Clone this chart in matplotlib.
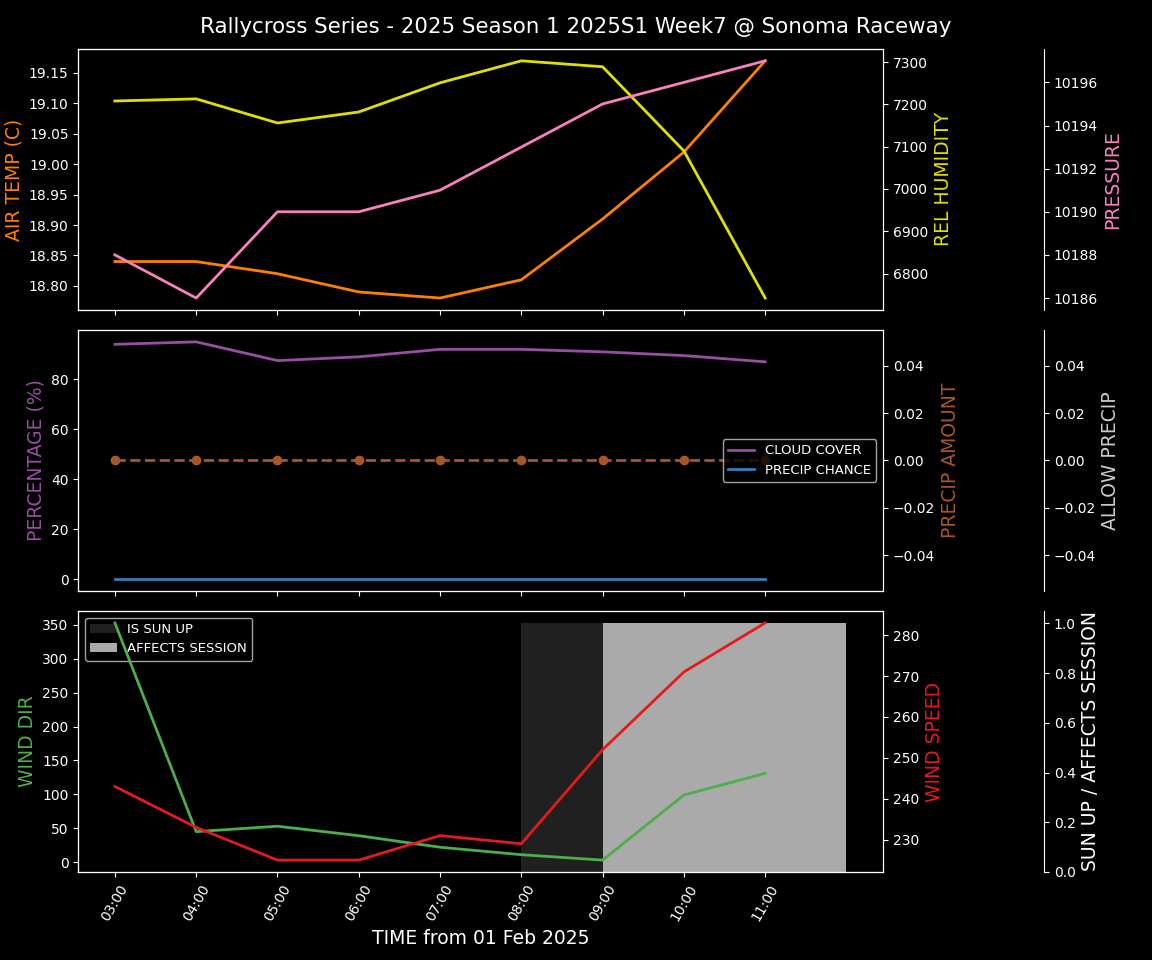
#!/usr/bin/env python3

import datetime as dt

import matplotlib
matplotlib.use("Agg")
import matplotlib.pyplot as plt
import matplotlib.dates as mdates

# hourly data
hours = [3, 4, 5, 6, 7, 8, 9, 10, 11]
air_temp = [18.84, 18.84, 18.82, 18.79, 18.78, 18.81, 18.91, 19.02, 19.17]
rel_humidity = [7208, 7213, 7156, 7182, 7251, 7303, 7289, 7090, 6742]
pressure = [10188, 10186, 10190, 10190, 10191, 10193, 10195, 10196, 10197]
cloud_cover = [94, 95, 87.5, 89, 92, 92, 91, 89.5, 87]
precip_chance = [0, 0, 0, 0, 0, 0, 0, 0, 0]
precip_amount = [0, 0, 0, 0, 0, 0, 0, 0, 0]
allow_precip = [0, 0, 0, 0, 0, 0, 0, 0, 0]
wind_dir = [353, 45, 53, 39, 22, 11, 3, 99, 131]
wind_speed = [243, 233, 225, 225, 231, 229, 252, 271, 283]
sun_up = [0, 0, 0, 0, 0, 1, 1, 1, 1]
affects_session = [0, 0, 0, 0, 0, 0, 1, 1, 1]

title = "Rallycross Series - 2025 Season 1 2025S1 Week7 @ Sonoma Raceway"
times = [dt.datetime(2025, 2, 1, h) for h in hours]

LBL = 13.5

plt.style.use("dark_background")
plt.rcParams["legend.fontsize"] = 9.5
fig, axs = plt.subplots(3, 1, figsize=(11.52, 9.6), dpi=100, sharex=True)
fig.subplots_adjust(left=0.068, right=0.7665, top=0.949, bottom=0.0917, hspace=0.077)
fig.suptitle(title, fontsize=15.4, y=0.982)

# --- top: temperature / humidity / pressure
ax = axs[0]
ax.plot(times, air_temp, color="#ff7f00", lw=2)
ax.set_ylabel("AIR TEMP (C)", color="#ff7f00", fontsize=LBL)
ax_h = ax.twinx()
ax_h.plot(times, rel_humidity, color="#e0e000", lw=2)
ax_h.set_ylabel("REL HUMIDITY", color="#e0e000", fontsize=LBL)
ax_p = ax.twinx()
ax_p.spines["right"].set_position(("axes", 1.2))
ax_p.plot(times, pressure, color="#f781bf", lw=2)
ax_p.set_ylabel("PRESSURE", color="#f781bf", fontsize=LBL)

# --- middle: cloud / precip
ax = axs[1]
ax.plot(times, cloud_cover, color="#984ea3", lw=2, label="CLOUD COVER")
ax.plot(times, precip_chance, color="#377eb8", lw=2, label="PRECIP CHANCE")
ax.set_ylabel("PERCENTAGE (%)", color="#984ea3", fontsize=LBL)
ax_a = ax.twinx()
ax_a.plot(times, precip_amount, color="#a65628", lw=2, ls="--", marker="o")
ax_a.set_ylabel("PRECIP AMOUNT", color="#a65628", fontsize=LBL)
ax_ap = ax.twinx()
ax_ap.spines["right"].set_position(("axes", 1.2))
ax_ap.plot(times, allow_precip, color="#cccccc", lw=0)
ax_ap.set_ylabel("ALLOW PRECIP", color="#cccccc", fontsize=LBL)
h, l = ax.get_legend_handles_labels()
ax_ap.legend(h, l, loc="center right")

# --- bottom: wind + sun/session bars
ax = axs[2]
ax_s = ax.twinx()
ax_s.spines["right"].set_position(("axes", 1.2))
width = 1 / 24
ax_s.bar(times, sun_up, width=width, align="edge", color="#202020", label="IS SUN UP")
ax_s.bar(times, affects_session, width=width, align="edge", color="#aaaaaa",
         label="AFFECTS SESSION")
ax_s.set_ylabel("SUN UP / AFFECTS SESSION", color="white", fontsize=LBL)
ax_s.legend(loc="upper left")
ax_s.set_zorder(0)

ax.set_zorder(1)
ax.patch.set_visible(False)
ax.plot(times, wind_dir, color="#4daf4a", lw=2)
ax.set_ylabel("WIND DIR", color="#4daf4a", fontsize=LBL)
ax_w = ax.twinx()
ax_w.set_zorder(2)
ax_w.plot(times, wind_speed, color="#e41a1c", lw=2)
ax_w.set_ylabel("WIND SPEED", color="#e41a1c", fontsize=LBL)

ax.set_xticks(times)
ax.xaxis.set_major_formatter(mdates.DateFormatter("%H:%M"))
for lab in ax.get_xticklabels():
    lab.set_rotation(60)
ax.set_xlabel("TIME from 01 Feb 2025", fontsize=LBL)

plt.savefig("out.png", dpi=100)
